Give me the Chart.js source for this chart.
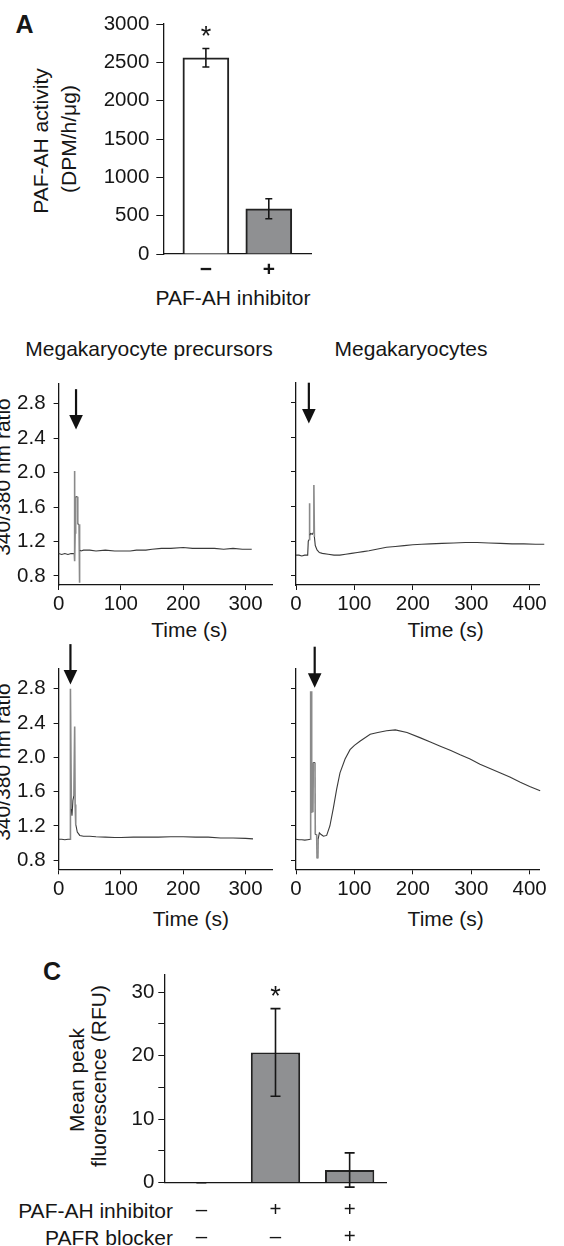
<!DOCTYPE html>
<html><head><meta charset="utf-8">
<script src="https://cdn.jsdelivr.net/npm/chart.js"></script>
<style>
html,body{margin:0;padding:0;background:#fff;overflow:hidden}
#fig{position:relative;width:564px;height:1246px;overflow:hidden;background:#fff;font-family:'Liberation Sans',Arial,Helvetica,sans-serif;color:#161616}
.t{position:absolute;white-space:nowrap;font-size:21px;line-height:1;transform:translate(-50%,-50%)}
.r{transform:translate(-50%,-50%) rotate(-90deg)}
.ra{transform:translate(-100%,-50%)}
.b{font-weight:bold;font-size:25px}
canvas{position:absolute}
</style></head><body><div id="fig">
<div class="t b" style="left:24.5px;top:23.5px">A</div>
<div class="t r" style="left:40px;top:141px">PAF-AH activity</div>
<div class="t r" style="left:68px;top:139px">(DPM/h/μg)</div>
<div class="t" style="left:233px;top:297px">PAF-AH inhibitor</div>
<div class="t" style="left:149px;top:348px">Megakaryocyte precursors</div>
<div class="t" style="left:411px;top:348px">Megakaryocytes</div>
<div class="t r" style="left:2px;top:477px">340/380 nm ratio</div>
<div class="t r" style="left:2px;top:762px">340/380 nm ratio</div>
<div class="t" style="left:189.4px;top:629.3px">Time (s)</div>
<div class="t" style="left:445.7px;top:629.3px">Time (s)</div>
<div class="t" style="left:190.8px;top:918.3px">Time (s)</div>
<div class="t" style="left:445.7px;top:918.3px">Time (s)</div>
<div class="t b" style="left:52px;top:971px">C</div>
<div class="t r" style="left:75.5px;top:1080px">Mean peak</div>
<div class="t r" style="left:98px;top:1076px">fluorescence (RFU)</div>
<div class="t ra" style="left:173px;top:1210px">PAF-AH inhibitor</div>
<div class="t ra" style="left:173px;top:1237px">PAFR blocker</div>
</div>
<script>
// ---------- Panel A data ----------
const catsA = ['−', '+'];
const valsA = [2560, 590];
const errsA = [120, 130];
const starsA = [true, false];
const yTicksA = [0, 500, 1000, 1500, 2000, 2500, 3000];

// ---------- Panel B data ----------
const yTicksB = [0.8, 1.2, 1.6, 2.0, 2.4, 2.8];
const xTicksBLeft = [0, 100, 200, 300];
const xTicksBRight = [0, 100, 200, 300, 400];

// Megakaryocyte precursors, top
const tB1 = [0,5,10,15,20,25.2,25.5,26,26.6,27.4,30.4,30.8,32.8,33.4,34,36,40,50,60,75,90,100,115,125,140,150,165,180,200,215,230,250,265,280,295,310];
const rB1 = [1.06,1.05,1.06,1.05,1.06,1.06,2.02,0.97,1.30,1.72,1.72,1.40,1.40,0.72,1.10,1.09,1.10,1.10,1.09,1.10,1.09,1.09,1.09,1.10,1.10,1.11,1.12,1.12,1.13,1.12,1.12,1.12,1.11,1.12,1.11,1.11];
// Megakaryocytes, top
const tB2 = [0,5,10,15,20,21,22.5,23,23.6,25,28,29.8,30.6,31.5,33,36,40,45,55,65,75,85,95,105,115,125,140,155,170,185,200,215,230,250,270,290,310,330,350,370,390,410,425];
const rB2 = [1.04,1.04,1.03,1.04,1.04,1.20,1.22,1.64,1.27,1.29,1.28,1.30,1.85,1.25,1.15,1.10,1.07,1.06,1.05,1.04,1.04,1.05,1.06,1.07,1.08,1.09,1.11,1.13,1.14,1.15,1.16,1.165,1.17,1.175,1.18,1.185,1.185,1.18,1.175,1.17,1.17,1.165,1.165];
// Megakaryocyte precursors, bottom
const tB3 = [0,5,10,15,18.3,18.5,19,19.5,20.5,21.5,23,24.5,25.8,26.5,27.5,30,34,40,50,60,75,90,100,120,140,160,180,200,220,240,260,280,300,312];
const rB3 = [1.045,1.045,1.04,1.045,1.045,2.80,2.00,2.78,1.40,1.32,1.50,1.55,2.36,1.45,1.22,1.13,1.09,1.08,1.08,1.075,1.07,1.065,1.065,1.07,1.07,1.07,1.075,1.075,1.07,1.07,1.06,1.06,1.055,1.05];
// Megakaryocytes, bottom
const tB4 = [0,5,10,15,20,24.8,25.1,25.8,26.5,27.2,28,29,29.7,32.5,33,35.4,36,37.5,38,40,43,47,52.5,58,64,69.6,75.3,84,92.5,100,110,127,140,155,170,190,212,230,247,265,281,298,315,332,349,366,384,400,418,425];
const rB4 = [1.045,1.04,1.04,1.035,1.04,1.045,2.77,1.36,2.77,1.50,1.94,1.36,1.94,1.94,1.10,1.10,0.82,0.82,1.05,1.12,1.10,1.08,1.09,1.20,1.41,1.63,1.82,1.98,2.09,2.14,2.19,2.27,2.29,2.31,2.32,2.29,2.23,2.18,2.13,2.08,2.03,1.98,1.92,1.87,1.82,1.77,1.71,1.66,1.61,1.59];
// stimulus arrows (time, tip ratio, top ratio) for B1..B4
const arrowT = [28, 22, 19, 32];
const arrowTip = [2.50, 2.56, 2.85, 2.81];
const arrowTop = [2.97, 3.03, 3.32, 3.29];

// ---------- Panel C data ----------
const catsC = [['–','–'], ['+','–'], ['+','+']];
const valsC = [0, 20.5, 2.0];
const errsC = [0, 6.9, 2.7];
const starsC = [false, true, false];
const yTicksC = [0, 5, 10, 15, 20, 25, 30];
const yTickLabelsC = ['0', '', '10', '', '20', '', '30'];

// ---------- setup ----------
const FONT = "'Liberation Sans', Arial, Helvetica, sans-serif";
const INK = '#161616';
Chart.defaults.font.family = FONT;
Chart.defaults.font.size = 20.5;
Chart.defaults.color = INK;
Chart.defaults.animation = false;
Chart.defaults.plugins.legend.display = false;
Chart.defaults.plugins.tooltip.enabled = false;
const fig = document.getElementById('fig');

function makeChart(box, area, cfg) {
  const cv = document.createElement('canvas');
  cv.width = box[2]; cv.height = box[3];
  cv.style.left = box[0] + 'px'; cv.style.top = box[1] + 'px';
  cv.style.width = box[2] + 'px'; cv.style.height = box[3] + 'px';
  fig.appendChild(cv);
  const yW = area[0] - box[0];
  const xH = box[1] + box[3] - area[3];
  const o = cfg.options;
  o.responsive = false;
  o.maintainAspectRatio = false;
  o.devicePixelRatio = 1;
  o.layout = {padding: {left: 0, top: area[1] - box[1], right: box[0] + box[2] - area[2], bottom: 0}};
  o.scales.x.afterFit = s => { s.height = xH; };
  o.scales.y.afterFit = s => { s.width = yW; };
  return new Chart(cv, cfg);
}
const setTicks = arr => (s => { s.ticks = arr.map(v => ({value: v})); });

const errPlugin = {
  id: 'errbars',
  afterDatasetsDraw(chart, args, o) {
    const ctx = chart.ctx, ys = chart.scales.y, meta = chart.getDatasetMeta(0);
    ctx.save();
    ctx.strokeStyle = INK; ctx.lineWidth = 1.6;
    o.vals.forEach((v, i) => {
      const x = meta.data[i].x, e = o.errs[i];
      const yt = ys.getPixelForValue(v + e), yb = ys.getPixelForValue(v - e);
      ctx.beginPath();
      ctx.moveTo(x, yt); ctx.lineTo(x, yb);
      ctx.moveTo(x - o.cap / 2, yt); ctx.lineTo(x + o.cap / 2, yt);
      ctx.moveTo(x - o.cap / 2, yb); ctx.lineTo(x + o.cap / 2, yb);
      ctx.stroke();
      if (o.stars[i]) {
        ctx.fillStyle = INK; ctx.font = '27px ' + FONT;
        ctx.textAlign = 'center'; ctx.textBaseline = 'alphabetic';
        ctx.fillText('*', x, yt - 4);
      }
    });
    ctx.restore();
  }
};

const arrowPlugin = {
  id: 'arrow',
  afterDatasetsDraw(chart, args, o) {
    const ctx = chart.ctx, xs = chart.scales.x, ys = chart.scales.y;
    const x = xs.getPixelForValue(o.t), yt = ys.getPixelForValue(o.top), yp = ys.getPixelForValue(o.tip);
    ctx.save();
    ctx.strokeStyle = '#111'; ctx.fillStyle = '#111'; ctx.lineWidth = 2.2;
    ctx.beginPath(); ctx.moveTo(x, yt); ctx.lineTo(x, yp - 12); ctx.stroke();
    ctx.beginPath(); ctx.moveTo(x - 6.8, yp - 14.5); ctx.lineTo(x + 6.8, yp - 14.5); ctx.lineTo(x, yp); ctx.closePath(); ctx.fill();
    ctx.restore();
  }
};

function axisStyle(tickLen, showTicks) {
  return {
    border: {display: true, color: INK, width: 1.3},
    grid: {display: true, drawOnChartArea: false, drawTicks: showTicks, tickLength: tickLen, color: INK, lineWidth: 1}
  };
}

// ---------- Panel A ----------
makeChart([0, 0, 340, 320], [163.3, 24, 311.7, 254], {
  type: 'bar',
  data: {datasets: [{
    data: valsA.map((v, i) => ({x: i, y: v})),
    backgroundColor: ['#ffffff', '#8f9092'],
    borderColor: '#222', borderWidth: 2, borderSkipped: 'bottom',
    barThickness: 46
  }]},
  options: {
    plugins: {errbars: {vals: valsA, errs: errsA, stars: starsA, cap: 7}},
    scales: {
      x: Object.assign(axisStyle(0, false), {
        type: 'linear', min: -0.677, max: 1.682, offset: false,
        afterBuildTicks: setTicks([0, 1]),
        ticks: {padding: 4, autoSkip: false, maxRotation: 0, callback: v => catsA[v], font: {size: 21, weight: 'bold'}}
      }),
      y: Object.assign(axisStyle(7, true), {
        min: 0, max: 3000,
        afterBuildTicks: setTicks(yTicksA),
        ticks: {padding: 7, callback: v => String(v)}
      })
    }
  },
  plugins: [errPlugin]
});

// ---------- Panel B ----------
function traceChart(box, area, ts, rs, xmax, xticks, showY, k) {
  makeChart(box, area, {
    type: 'line',
    data: {datasets: [{
      data: ts.map((t, i) => ({x: t, y: rs[i]})),
      borderColor: '#3a3a3a', borderWidth: 1.1, pointRadius: 0, tension: 0, clip: false,
      segment: {
        borderColor: c => (Math.abs(c.p1.parsed.y - c.p0.parsed.y) > 0.2 && Math.abs(c.p1.parsed.x - c.p0.parsed.x) < 2) ? '#8a8a8a' : undefined,
        borderWidth: c => (Math.abs(c.p1.parsed.y - c.p0.parsed.y) > 0.2 && Math.abs(c.p1.parsed.x - c.p0.parsed.x) < 2) ? 1.6 : undefined
      }
    }]},
    options: {
      plugins: {arrow: {t: arrowT[k], tip: arrowTip[k], top: arrowTop[k]}},
      scales: {
        x: Object.assign(axisStyle(5, true), {
          type: 'linear', min: 0, max: xmax,
          afterBuildTicks: setTicks(xticks),
          ticks: {padding: 2.5, maxRotation: 0, autoSkip: false, callback: v => String(v)}
        }),
        y: Object.assign(axisStyle(5, true), {
          min: 0.695, max: 3.03,
          afterBuildTicks: setTicks(yTicksB),
          ticks: {display: showY, padding: 8, callback: v => v.toFixed(1)}
        })
      }
    },
    plugins: [arrowPlugin]
  });
}
traceChart([0, 345, 292, 285], [58.6, 384, 272.3, 585], tB1, rB1, 343, xTicksBLeft, true, 0);
traceChart([276, 345, 288, 285], [296, 382.7, 539.6, 585], tB2, rB2, 417, xTicksBRight, false, 1);
traceChart([0, 630, 292, 285], [58.6, 669, 272.3, 869.3], tB3, rB3, 343, xTicksBLeft, true, 2);
traceChart([276, 630, 288, 285], [296, 669, 539.6, 869.3], tB4, rB4, 417, xTicksBRight, false, 3);

// ---------- Panel C ----------
makeChart([0, 935, 420, 311], [164.3, 975, 386.7, 1182.7], {
  type: 'bar',
  data: {labels: catsC, datasets: [{
    data: valsC,
    backgroundColor: '#8f9092',
    borderColor: '#222', borderWidth: 2, borderSkipped: 'bottom',
    categoryPercentage: 1, barPercentage: 0.665
  }]},
  options: {
    plugins: {errbars: {vals: valsC, errs: errsC, stars: starsC, cap: 10}},
    scales: {
      x: Object.assign(axisStyle(0, false), {
        type: 'category',
        ticks: {padding: 13.8, maxRotation: 0, autoSkip: false, font: {size: 20.5, lineHeight: 1.317}}
      }),
      y: Object.assign(axisStyle(6, true), {
        min: 0, max: 32.7,
        afterBuildTicks: setTicks(yTicksC),
        ticks: {padding: 4, callback: (v, i) => yTickLabelsC[i]}
      })
    }
  },
  plugins: [errPlugin]
});
</script>
</body></html>
